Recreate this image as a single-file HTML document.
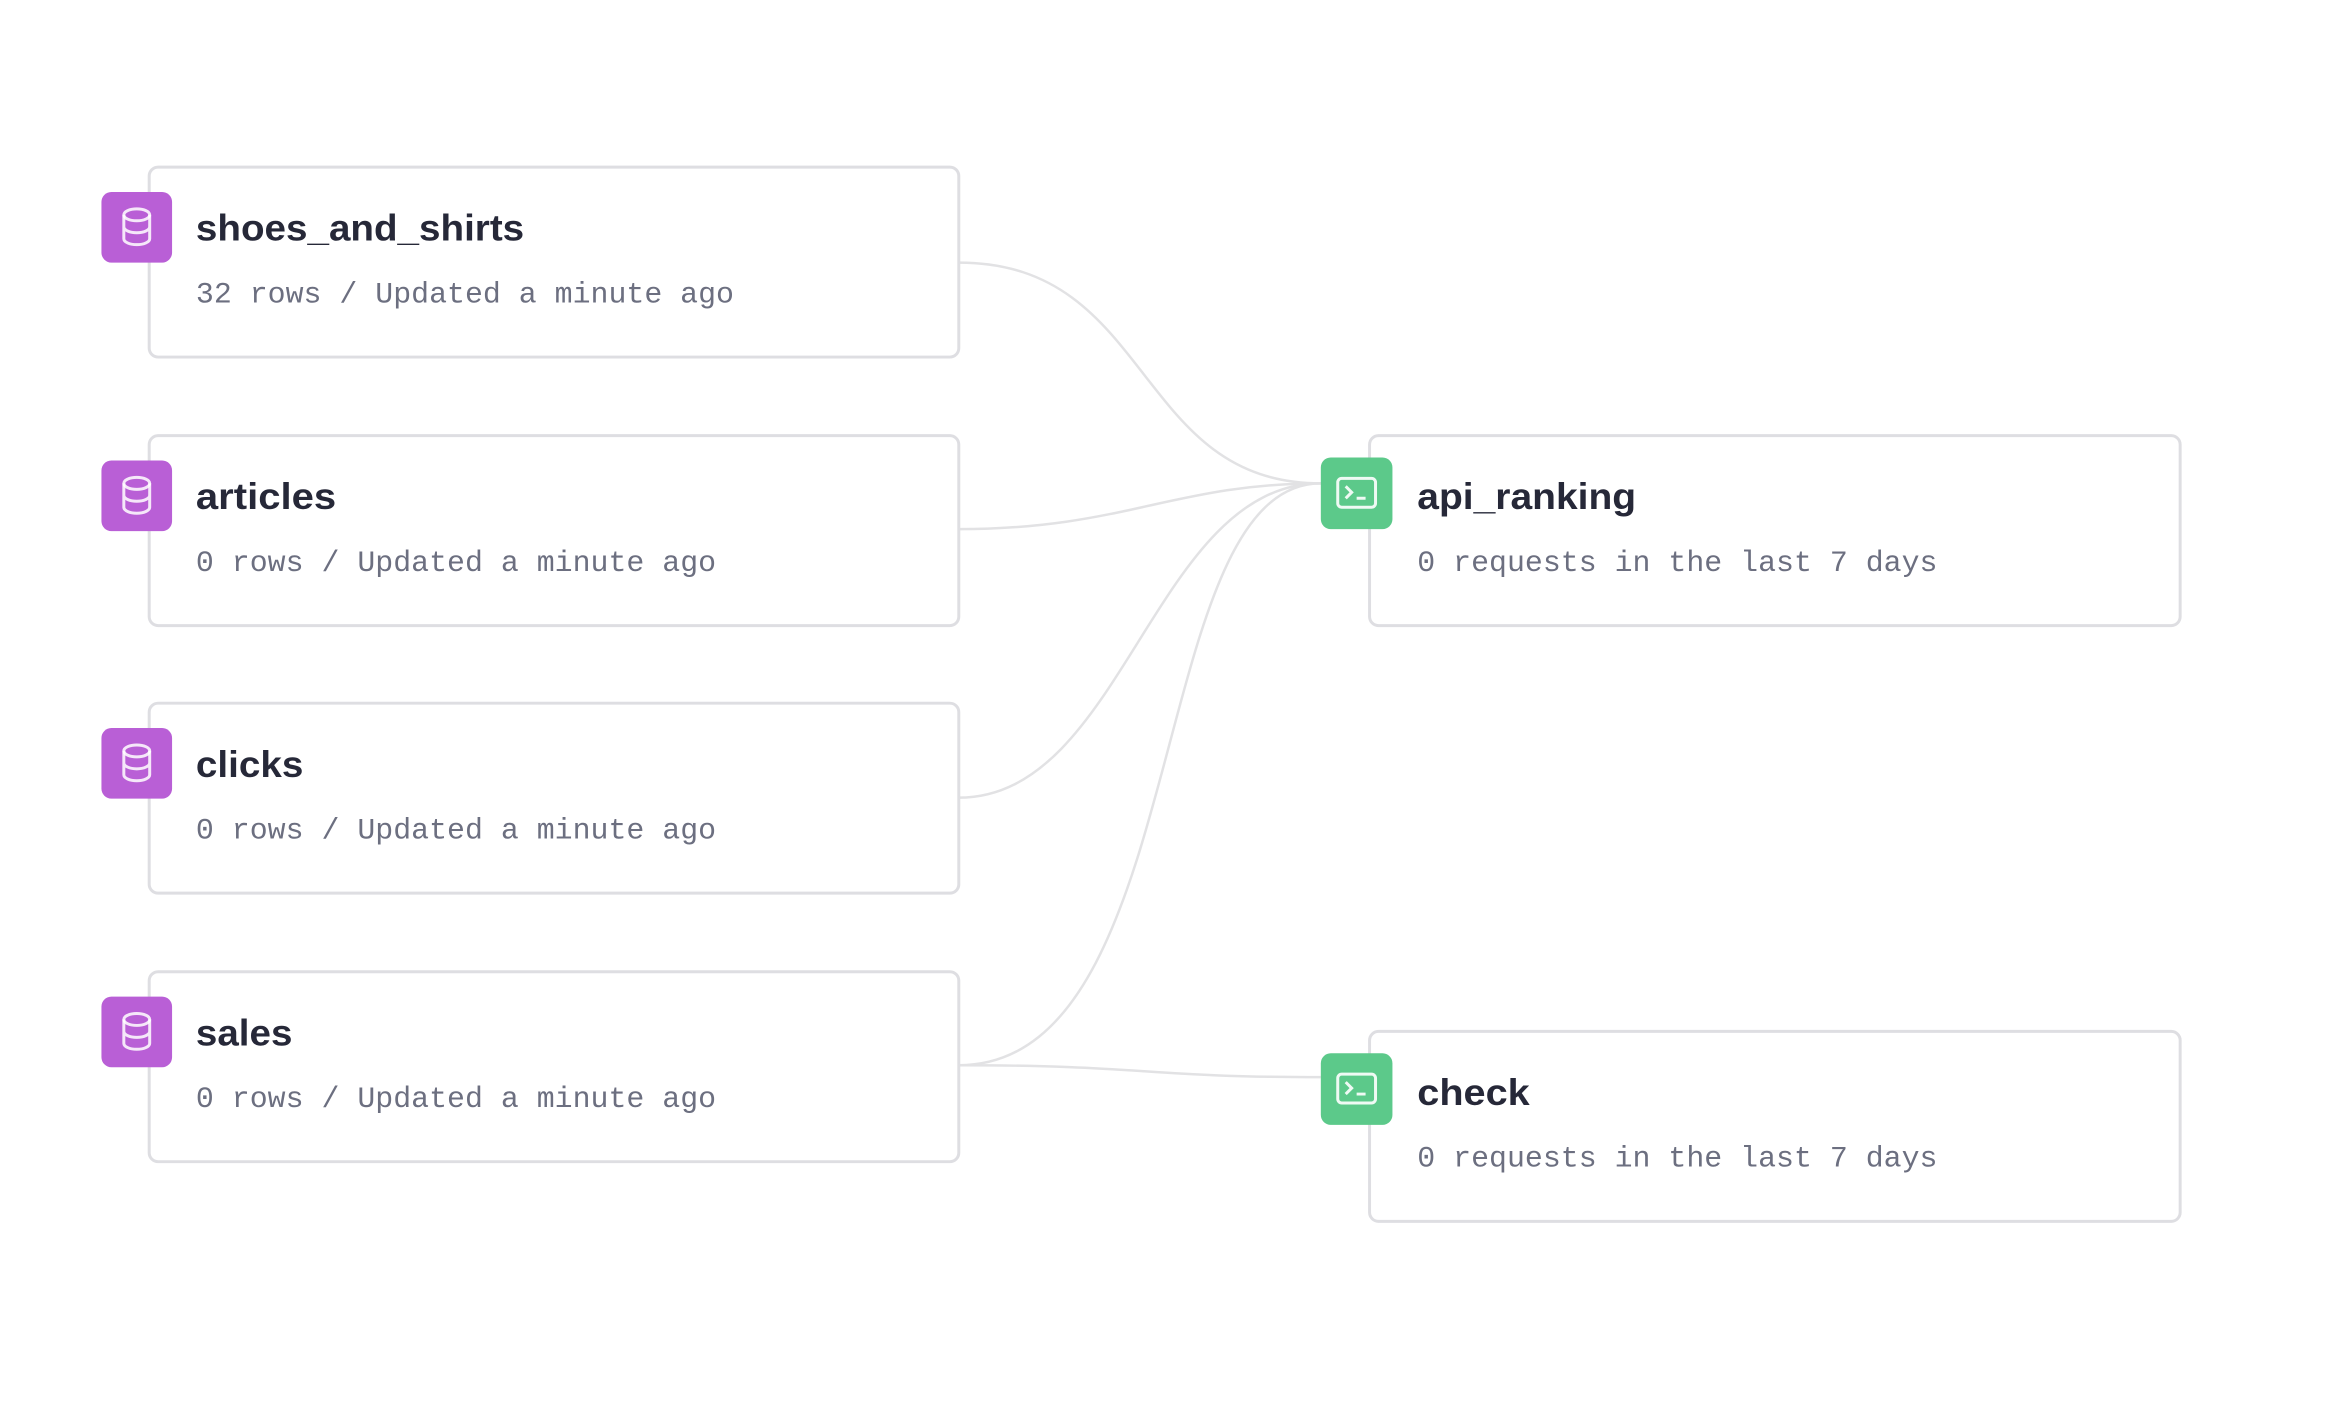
<!DOCTYPE html>
<html><head><meta charset="utf-8"><style>
html,body{margin:0;padding:0;background:#fff;}
svg{display:block}
</style></head><body>
<svg width="2330" height="1408" viewBox="0 0 2330 1408" xmlns="http://www.w3.org/2000/svg">
<g transform="scale(0.9946)">
<g fill="none" stroke="#e2e2e4" stroke-width="2.5">
<path d="M964 264 C1160 264 1140 486 1328 486"/>
<path d="M964 532 C1130 532 1180 486 1328 486"/>
<path d="M964 802 C1130 802 1160 486 1328 486"/>
<path d="M964 1071 C1200 1071 1150 486 1328 486"/>
<path d="M964 1071 C1150 1071 1150 1083 1328 1083"/>
</g>
<g fill="#fff" stroke="#dedee2" stroke-width="3">
<rect x="150" y="168" width="814" height="191" rx="9"/>
<rect x="150" y="438" width="814" height="191" rx="9"/>
<rect x="150" y="707" width="814" height="191" rx="9"/>
<rect x="150" y="977" width="814" height="191" rx="9"/>
<rect x="1377" y="438" width="815" height="191" rx="9"/>
<rect x="1377" y="1037" width="815" height="191" rx="9"/>
</g>
<defs>
<g id="db"><rect width="71" height="71" rx="10" fill="#b95fd6"/>
<g fill="none" stroke="#fff" stroke-opacity=".85" stroke-width="3"><ellipse cx="35.5" cy="23" rx="13" ry="6"/><path d="M22.5 23v24c0 3.3 5.8 6 13 6s13-2.7 13-6V23M22.5 35c0 3.3 5.8 6 13 6s13-2.7 13-6"/></g></g>
<g id="ep"><rect width="72" height="72" rx="10" fill="#5cc98a"/>
<g fill="none" stroke="#fff" stroke-opacity=".9" stroke-width="3"><rect x="17" y="21" width="38" height="29" rx="4"/><path d="M25 29l6 6-6 6M36 41h9"/></g></g>
</defs>
<use href="#db" x="102" y="193"/>
<use href="#db" x="102" y="463"/>
<use href="#db" x="102" y="732"/>
<use href="#db" x="102" y="1002"/>
<use href="#ep" x="1328" y="460"/>
<use href="#ep" x="1328" y="1059"/>
<g font-family="Liberation Sans, sans-serif" font-weight="bold" font-size="37" fill="#262838">
<text x="197" y="242" textLength="330" lengthAdjust="spacingAndGlyphs">shoes_and_shirts</text>
<text x="197" y="512" textLength="141" lengthAdjust="spacingAndGlyphs">articles</text>
<text x="197" y="781" textLength="108" lengthAdjust="spacingAndGlyphs">clicks</text>
<text x="197" y="1051" textLength="97" lengthAdjust="spacingAndGlyphs">sales</text>
<text x="1425" y="512" textLength="220" lengthAdjust="spacingAndGlyphs">api_ranking</text>
<text x="1425" y="1111" textLength="113" lengthAdjust="spacingAndGlyphs">check</text>
</g>
<g font-family="Liberation Mono, monospace" font-size="30" fill="#6c6f80">
<text x="197" y="304" textLength="541" lengthAdjust="spacingAndGlyphs">32 rows / Updated a minute ago</text>
<text x="197" y="574" textLength="523" lengthAdjust="spacingAndGlyphs">0 rows / Updated a minute ago</text>
<text x="197" y="843" textLength="523" lengthAdjust="spacingAndGlyphs">0 rows / Updated a minute ago</text>
<text x="197" y="1113" textLength="523" lengthAdjust="spacingAndGlyphs">0 rows / Updated a minute ago</text>
<text x="1425" y="574" textLength="523" lengthAdjust="spacingAndGlyphs">0 requests in the last 7 days</text>
<text x="1425" y="1173" textLength="523" lengthAdjust="spacingAndGlyphs">0 requests in the last 7 days</text>
</g>
</g>
</svg>
</body></html>
